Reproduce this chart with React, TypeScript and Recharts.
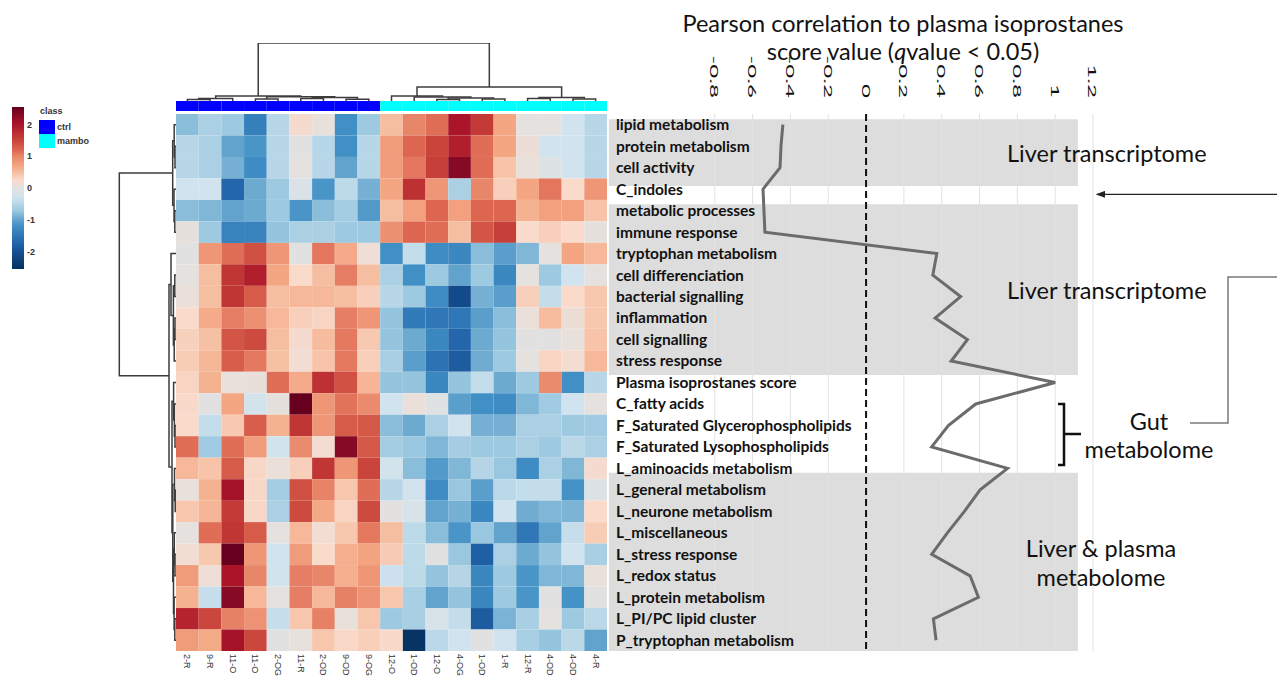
import React from 'react';
import { ComposedChart, LineChart, Line, Scatter, XAxis, YAxis, ReferenceArea, ReferenceLine } from 'recharts';

// ---- data ----
const rowLabels = [
  'lipid metabolism', 'protein metabolism', 'cell activity', 'C_indoles', 'metabolic processes',
  'immune response', 'tryptophan metabolism', 'cell differenciation', 'bacterial signalling',
  'inflammation', 'cell signalling', 'stress response', 'Plasma isoprostanes score', 'C_fatty acids',
  'F_Saturated Glycerophospholipids', 'F_Saturated Lysophospholipids', 'L_aminoacids metabolism',
  'L_general metabolism', 'L_neurone metabolism', 'L_miscellaneous', 'L_stress response',
  'L_redox status', 'L_protein metabolism', 'L_PI/PC lipid cluster', 'P_tryptophan metabolism',
];

const sampleLabels = ['2-R', '9-R', '11-O', '11-O', '2-OG', '11-R', '2-OD', '9-OD', '9-OG', '12-O', '1-OD', '12-O', '4-OG', '1-OD', '1-R', '12-R', '4-OD', '4-OD', '4-R'];
const sampleClass = ['ctrl', 'ctrl', 'ctrl', 'ctrl', 'ctrl', 'ctrl', 'ctrl', 'ctrl', 'ctrl', 'mambo', 'mambo', 'mambo', 'mambo', 'mambo', 'mambo', 'mambo', 'mambo', 'mambo', 'mambo'];

// z-scores, one list per row (rows top to bottom, samples left to right)
const zScores: number[][] = [
  [-0.8, -0.6, -0.7, -1.4, -0.5, 0.2, 0.05, -1.2, -0.7, 0.5, 1.0, 1.15, 2.0, 1.6, 0.7, 0, 0, -0.3, -0.5],
  [-0.5, -0.6, -1.0, -1.15, -0.5, -0.05, -0.5, -1.2, -0.5, 0.8, 1.2, 1.5, 1.9, 1.15, 0.7, 0.1, -0.3, -0.3, -0.5],
  [-0.5, -0.6, -0.9, -1.25, -0.5, 0, -0.5, -1.0, -0.5, 0.8, 1.1, 1.55, 2.3, 1.15, 0.45, 0.05, -0.1, -0.3, -0.5],
  [-0.3, -0.3, -1.7, -0.95, -0.7, -0.15, -1.15, -0.45, -0.9, 0.7, 1.7, 0.85, -0.6, 1.0, 0.35, 0.7, 1.1, 0.25, 0.85],
  [-0.8, -0.85, -1.0, -0.95, -0.7, -1.15, -0.8, -0.65, -1.1, 0.5, 0.75, 1.2, 0.75, 1.2, 1.2, 0.6, 0.75, 0.75, 0.45],
  [0.02, -0.7, -1.35, -1.35, -0.75, -0.6, -0.6, -0.7, -0.7, 0.9, 1.2, 1.15, 0.5, 1.35, 1.55, 0.25, 0.35, 0.25, 0.02],
  [-0.05, 0.85, 1.15, 1.4, 0.85, -0.05, 1.1, 0.65, 0.12, -1.2, -0.4, -1.25, -1.3, -0.8, -1.05, -0.85, 0, 0.7, 0.55],
  [0, 0.5, 1.65, 1.9, 0.7, 0.25, 0.5, 1.05, 0.5, -0.6, -1.2, -0.7, -1.0, -0.7, -1.3, 0, -0.7, -0.3, 0],
  [0.08, 0.5, 1.65, 1.3, 0.5, 0.55, 0.55, 0.5, 0.35, -0.5, -0.7, -1.25, -2.1, -0.9, -1.05, 0.35, -0.4, 0.25, 0.42],
  [0.25, 0.65, 1.05, 0.9, 0.55, 0.35, 0.3, 1.05, 0.85, -0.75, -1.45, -1.5, -1.5, -1.05, -0.8, 0.08, 0.52, 0.1, 0.42],
  [0.33, 0.48, 1.35, 1.45, 0.5, 0.2, 0.52, 1.08, 0.4, -0.75, -0.95, -1.3, -1.7, -0.95, -0.75, -0.05, -0.05, 0.05, 0.45],
  [0.37, 0.56, 1.28, 1.08, 0.48, 0.15, 0.45, 1.08, 0.35, -0.62, -1.05, -1.55, -1.85, -0.93, -0.7, 0, 0.3, 0.18, 0.55],
  [0.3, 0.6, 0.05, 0.06, 1.15, 0.65, 1.7, 1.38, 0.57, -0.75, -0.75, -1.3, -0.75, -0.4, -0.95, -0.7, 0.95, -1.2, -0.5],
  [0.26, -0.05, 0.7, -0.25, 0.02, 2.55, 0.85, 1.12, 0.95, -0.3, 0.08, -0.08, -1.05, -1.2, -1.25, -0.85, -0.68, -0.3, 0],
  [0.25, -0.4, 0.4, 1.28, 0.6, 1.65, 0.85, 1.3, 1.32, -0.8, -0.95, -0.6, -0.3, -0.9, -0.9, -0.6, -0.6, -0.7, -0.68],
  [1.15, -0.68, 1.15, 0.78, -0.28, 0.95, 0.18, 2.3, 1.32, -0.65, -0.72, -0.85, -0.65, -0.7, -0.7, -0.6, -0.7, -0.48, -0.6],
  [0.55, 0.45, 1.3, 0.28, 0.08, 0.35, 1.65, 0.85, 1.5, -0.25, -0.8, -1.1, -0.85, -0.52, -0.72, -1.25, -0.6, -0.85, 0.2],
  [0.05, 0.6, 2.05, 0.28, -0.65, 1.4, 1.02, 0.43, 1.15, -0.5, -0.27, -1.25, -0.72, -1.05, -0.48, -0.4, -0.4, -1.18, -0.12],
  [0.43, 0.57, 1.6, 0.28, -0.6, 1.45, 0.68, 0.3, 1.45, -0.02, -0.2, -1.0, -0.9, -1.3, -0.3, -0.93, -0.85, -0.87, 0.25],
  [0, 1.15, 1.65, 1.3, 0, 0.55, 0.15, 0.42, 1.08, 0.5, -0.45, -0.8, -1.15, -0.72, -1.0, -1.5, -1.0, -0.38, 0.37],
  [0.16, 0.42, 2.55, 0.85, -0.3, 0.8, 0.25, 0.62, 0.72, 0.38, -0.45, -0.05, -0.72, -1.8, -0.6, -0.95, -0.75, -0.3, -0.62],
  [0.8, 0.12, 2.0, 1.0, -0.28, 1.05, 1.0, 0.62, 0.85, -0.33, -0.45, -0.75, -0.52, -1.3, -0.7, -1.15, -0.85, -0.85, 0.05],
  [0.6, -0.38, 2.3, 0.55, 0, 1.05, 0.55, 1.03, 0.88, 0.43, -0.62, -1.0, -0.75, -1.3, -0.7, -1.15, -0.05, -1.18, -0.05],
  [1.85, 1.48, 1.03, 0.88, -0.38, 0.43, 1.03, 0.05, 0.43, -0.7, -0.62, -0.2, -0.4, -1.85, -0.88, -0.62, 0, -0.7, -0.48],
  [0.8, 0.67, 2.05, 1.48, -0.05, 0.05, 0.43, 0.27, 0.35, 0.26, -2.5, -0.48, -0.3, -0.05, -0.3, -0.62, -0.75, -0.48, -1.0],
];

// Pearson r to plasma isoprostanes, same row order
const correlations = [-0.44, -0.45, -0.455, -0.545, -0.54, -0.535, 0.374, 0.353, 0.5, 0.365, 0.536, 0.45, 1.0, 0.58, 0.435, 0.347, 0.748, 0.603, 0.52, 0.43, 0.347, 0.55, 0.594, 0.356, 0.37];
const corrTicks = [-0.8, -0.6, -0.4, -0.2, 0, 0.2, 0.4, 0.6, 0.8, 1, 1.2];
const legendTicks = [-2, -1, 0, 1, 2];

// shaded blocks behind the row labels, in row units
const bandRows = [[-0.25, 2.85], [3.7, 11.65], [16.2, 24.5]];

// dendrograms: [left, right, height]; leaves are indexes
type Tree = number | [Tree, Tree, number];
const colTree: Tree = [
  [[[0, 1, 1.5], 2, 2.5], [[3, 4, 2], [[5, 6, 2.5], [7, 8, 1.8], 3.5], 4.2], 5],
  [[9, [10, [[11, 12, 1.5], [13, 14, 2], 3], 4], 5], [[15, 16, 2.5], [17, 18, 2], 3.5], 14],
  58,
];
const rowTree: Tree = [
  [[0, [1, 2, 1], 1.8], [3, [4, 5, 1.2], 2], 3.3],
  [
    [6, [[7, 8, 1.2], [[9, 10, 1], 11, 1.8], 2.6], 5],
    [[12, [13, [14, 15, 1], 1.6], 2.4], [[16, [17, 18, 0.8], 1.5], [[19, [20, 21, 1], 1.7], [22, [23, 24, 1.2], 1.9], 2.5], 3.2], 4],
    7,
  ],
  56.7,
];

const colorStops: [number, string][] = [
  [-2.55, '#053061'], [-2.1, '#134a89'], [-1.7, '#2366ac'], [-1.2, '#4190c5'], [-1.0, '#62a3cd'],
  [-0.7, '#9ecae1'], [-0.3, '#d0e3ee'], [0, '#e4e1df'], [0.25, '#f9dacb'], [0.5, '#f6bea0'],
  [0.7, '#f4a582'], [1.0, '#e8866a'], [1.2, '#dd6650'], [1.55, '#c63f38'], [2.0, '#ab1529'], [2.55, '#67001f'],
];
const classColors: Record<string, string> = { ctrl: '#0000ff', mambo: '#00ffff' };

// ---- helpers ----
const hexToRgb = (h: string) => [1, 3, 5].map((i) => parseInt(h.slice(i, i + 2), 16));
function zColor(v: number) {
  if (v <= colorStops[0][0]) return colorStops[0][1];
  for (let i = 1; i < colorStops.length; i++) {
    if (v <= colorStops[i][0]) {
      const t = (v - colorStops[i - 1][0]) / (colorStops[i][0] - colorStops[i - 1][0]);
      const a = hexToRgb(colorStops[i - 1][1]);
      const b = hexToRgb(colorStops[i][1]);
      return `rgb(${a.map((x, k) => Math.round(x + (b[k] - x) * t)).join(',')})`;
    }
  }
  return colorStops[colorStops.length - 1][1];
}

type Pt = { p: number; h: number };
function layoutTree(node: Tree, out: Pt[][]): Pt {
  if (typeof node === 'number') return { p: node + 0.5, h: 0 };
  const a = layoutTree(node[0], out);
  const b = layoutTree(node[1], out);
  const h = node[2];
  out.push([a, { p: a.p, h }, { p: b.p, h }, b]);
  return { p: (a.p + b.p) / 2, h };
}
const colMerges: Pt[][] = [];
layoutTree(colTree, colMerges);
const rowMerges: Pt[][] = [];
layoutTree(rowTree, rowMerges);

const cells = zScores.flatMap((row, r) => row.map((v, c) => ({ col: c, row: r, v, cx: c + 0.5, cy: r + 0.5 })));
const corrData = correlations.map((r, row) => ({ row, r }));
const rowIdx = rowLabels.map((_, i) => i);

const NOTHING = () => <g />;
const zero = { top: 0, right: 0, bottom: 0, left: 0 };

// layout
const HM_LEFT = 176;
const HM_TOP = 113.5;
const HM_W = 431;
const HM_H = 537;

const SampleTick = (p: any) => (
  <text transform={`translate(${p.x},${p.y}) rotate(90)`} textAnchor="start" dominantBaseline="central"
    fontSize={9} fill="#333" fontFamily="'Liberation Sans', Arial, sans-serif">
    {sampleLabels[Math.floor(p.payload.value)]}
  </text>
);

const RowTick = (p: any) => (
  <text x={p.x} y={p.y} dy="0.35em" textAnchor="start" fontSize={15.5} fontWeight={700} fill="#111" fontFamily="Lato">
    {rowLabels[p.payload.value]}
  </text>
);

const CorrTick = (p: any) => (
  <text transform={`translate(${p.x},${p.y}) rotate(90) scale(2.1,1)`} textAnchor="end" dominantBaseline="central"
    fontSize={11.5} fill="#111" fontFamily="Lato">
    {String(p.payload.value)}
  </text>
);

const abs = (left: number, top: number): React.CSSProperties => ({ position: 'absolute', left, top });
const annot: React.CSSProperties = { position: 'absolute', fontFamily: 'Lato', fontSize: 23.5, color: '#111', lineHeight: '28px', whiteSpace: 'nowrap' };

export default function App() {
  return (
    <div style={{ position: 'absolute', left: 0, top: 0, width: 1277, height: 676, overflow: 'hidden', background: '#fff' }}>
      {/* colour key */}
      <div style={abs(11.5, 107)}>
        <ComposedChart width={36} height={162} margin={zero}>
          <defs>
            <linearGradient id="zgrad" x1="0" y1="0" x2="0" y2="1">
              {colorStops.slice().reverse().map(([v, c]) => (
                <stop key={v} offset={(2.55 - v) / 5.1} stopColor={c} />
              ))}
            </linearGradient>
          </defs>
          <XAxis type="number" dataKey="x" domain={[0, 1]} hide />
          <YAxis type="number" dataKey="v" orientation="right" domain={[-2.55, 2.55]} ticks={legendTicks} interval={0}
            width={24} tickSize={0} tickMargin={3} axisLine={false} tickLine={false}
            tick={{ fontSize: 9, fill: '#333', fontWeight: 700, fontFamily: "'Liberation Sans', Arial" }} />
          <ReferenceArea x1={0} x2={1} y1={-2.55} y2={2.55} fill="url(#zgrad)" fillOpacity={1} stroke="none" />
          <Scatter data={legendTicks.map((v) => ({ x: 0.5, v }))} shape={NOTHING} isAnimationActive={false} />
        </ComposedChart>
      </div>

      {/* class key */}
      <div style={{ ...abs(40, 106), fontFamily: "'Liberation Sans', Arial", fontSize: 9, fontWeight: 700, color: '#333' }}>class</div>
      {Object.keys(classColors).map((k, i) => (
        <div key={k} style={{ ...abs(39, 120 + i * 14), display: 'flex', alignItems: 'center' }}>
          <div style={{ width: 16, height: 14, background: classColors[k] }} />
          <span style={{ marginLeft: 2, fontFamily: "'Liberation Sans', Arial", fontSize: 9, fontWeight: 700, color: '#333' }}>{k}</span>
        </div>
      ))}

      {/* column dendrogram */}
      <div style={abs(HM_LEFT, 43)}>
        <ComposedChart width={HM_W} height={58} margin={zero}>
          <XAxis type="number" dataKey="p" domain={[0, 19]} hide />
          <YAxis type="number" dataKey="h" domain={[0, 58]} hide />
          {colMerges.map((m, i) => (
            <Scatter key={i} data={m} line={{ stroke: '#3c3c3c', strokeWidth: 1.5 }} shape={NOTHING} isAnimationActive={false} />
          ))}
        </ComposedChart>
      </div>

      {/* class bar */}
      <div style={abs(HM_LEFT, 101)}>
        <ComposedChart width={HM_W} height={10} margin={zero}>
          <XAxis type="number" dataKey="x" domain={[0, 19]} hide />
          <YAxis type="number" dataKey="y" domain={[0, 1]} hide />
          {sampleClass.map((c, i) => (
            <ReferenceArea key={i} x1={i} x2={i + 1} y1={0} y2={1} fill={classColors[c]} fillOpacity={1} stroke="none" />
          ))}
          <Scatter data={sampleClass.map((_, i) => ({ x: i + 0.5, y: 0.5 }))} shape={NOTHING} isAnimationActive={false} />
        </ComposedChart>
      </div>

      {/* row dendrogram */}
      <div style={abs(116, HM_TOP)}>
        <ComposedChart width={60} height={HM_H} margin={zero}>
          <XAxis type="number" dataKey="h" domain={[0, 60]} reversed hide />
          <YAxis type="number" dataKey="p" domain={[0, 25]} reversed hide />
          {rowMerges.map((m, i) => (
            <Scatter key={i} data={m} line={{ stroke: '#3c3c3c', strokeWidth: 1.5 }} shape={NOTHING} isAnimationActive={false} />
          ))}
        </ComposedChart>
      </div>

      {/* heatmap */}
      <div style={abs(HM_LEFT, HM_TOP)}>
        <ComposedChart width={HM_W} height={HM_H + 30} margin={zero}>
          <XAxis type="number" dataKey="cx" domain={[0, 19]} ticks={sampleLabels.map((_, i) => i + 0.5)} interval={0}
            height={30} tickSize={0} tickMargin={3} axisLine={false} tickLine={false} tick={SampleTick} />
          <YAxis type="number" dataKey="cy" domain={[0, 25]} reversed hide />
          {cells.map((c) => (
            <ReferenceArea key={`${c.row}-${c.col}`} x1={c.col} x2={c.col + 1} y1={c.row} y2={c.row + 1}
              fill={zColor(c.v)} fillOpacity={1} stroke="none" />
          ))}
          <Scatter data={cells} shape={NOTHING} isAnimationActive={false} />
        </ComposedChart>
      </div>

      {/* correlation profile (vertical layout: row 0 already at the top) */}
      <div style={abs(607, HM_TOP - 60)}>
        <LineChart layout="vertical" width={498} height={HM_H + 60} data={corrData} margin={{ top: 0, right: 12, bottom: 0, left: 0 }}>
          <XAxis type="number" dataKey="r" orientation="top" domain={[-1.37, 1.2]} ticks={corrTicks} interval={0}
            height={60} tickSize={0} tickMargin={16} axisLine={false} tickLine={false} tick={CorrTick} allowDataOverflow />
          <YAxis type="number" dataKey="row" domain={[-0.5, 24.5]} ticks={rowIdx} interval={0} mirror
            tickSize={0} tickMargin={9} axisLine={false} tickLine={false} tick={RowTick} />
          {bandRows.map(([a, b], i) => (
            <ReferenceArea key={i} x1={-1.36} x2={1.12} y1={a} y2={b} fill="#dddddd" fillOpacity={1} stroke="none" ifOverflow="visible" />
          ))}
          {corrTicks.filter((t) => t !== 0).map((t) => (
            <ReferenceLine key={t} x={t} stroke="#e2e2e2" strokeWidth={1} />
          ))}
          <ReferenceLine x={0} stroke="#111" strokeWidth={2} strokeDasharray="7 4" />
          <Line dataKey="r" type="linear" stroke="#6b6b6b" strokeWidth={3} dot={false} isAnimationActive={false} />
        </LineChart>
      </div>

      {/* title */}
      <div style={{ ...annot, left: 653, top: 9, width: 500, textAlign: 'center' }}>
        Pearson correlation to plasma isoprostanes<br />score value (<i>q</i>value &lt; 0.05)
      </div>

      {/* block annotations */}
      <div style={{ ...annot, left: 1007, top: 139 }}>Liver transcriptome</div>
      <div style={{ ...annot, left: 1007, top: 276 }}>Liver transcriptome</div>
      <div style={{ ...annot, left: 1079, top: 407, width: 140, textAlign: 'center' }}>Gut<br />metabolome</div>
      <div style={{ ...annot, left: 1001, top: 534, width: 200, textAlign: 'center', lineHeight: '29px' }}>Liver &amp; plasma<br />metabolome</div>

      <svg width={1277} height={676} style={{ position: 'absolute', left: 0, top: 0, pointerEvents: 'none' }}>
        <defs>
          <marker id="ah" markerWidth="8" markerHeight="6" refX="7" refY="3" orient="auto">
            <path d="M0,0 L8,3 L0,6 z" fill="#222" />
          </marker>
        </defs>
        <line x1={1277} y1={194.3} x2={1097} y2={194.3} stroke="#222" strokeWidth={1.2} markerEnd="url(#ah)" />
        <polyline points="1190,423 1228,423 1228,277 1277,277" fill="none" stroke="#7a7a7a" strokeWidth={1.5} />
        <path d="M1058,404 H1064 V465 H1058 M1064,434 H1081" fill="none" stroke="#111" strokeWidth={2.5} />
      </svg>
    </div>
  );
}
